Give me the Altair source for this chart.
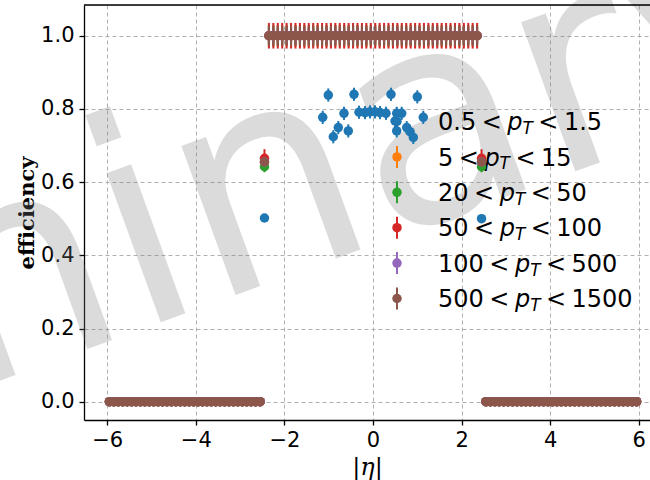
import altair as alt
import pandas as pd

# ---------------- data ----------------
series_names = ["0.5 < pT < 1.5", "5 < pT < 15", "20 < pT < 50",
                "50 < pT < 100", "100 < pT < 500", "500 < pT < 1500"]
pt_lo = ["0.5", "5", "20", "50", "100", "500"]
pt_hi = ["1.5", "15", "50", "100", "500", "1500"]
colors = ["#1f77b4", "#ff7f0e", "#2ca02c", "#d62728", "#9467bd", "#8c564b"]

eta_bins = [
    -5.95, -5.85, -5.75, -5.65, -5.55, -5.45, -5.35, -5.25, -5.15, -5.05,
    -4.95, -4.85, -4.75, -4.65, -4.55, -4.45, -4.35, -4.25, -4.15, -4.05,
    -3.95, -3.85, -3.75, -3.65, -3.55, -3.45, -3.35, -3.25, -3.15, -3.05,
    -2.95, -2.85, -2.75, -2.65, -2.55, -2.45, -2.35, -2.25, -2.15, -2.05,
    -1.95, -1.85, -1.75, -1.65, -1.55, -1.45, -1.35, -1.25, -1.15, -1.05,
    -0.95, -0.85, -0.75, -0.65, -0.55, -0.45, -0.35, -0.25, -0.15, -0.05,
    0.05, 0.15, 0.25, 0.35, 0.45, 0.55, 0.65, 0.75, 0.85, 0.95,
    1.05, 1.15, 1.25, 1.35, 1.45, 1.55, 1.65, 1.75, 1.85, 1.95,
    2.05, 2.15, 2.25, 2.35, 2.45, 2.55, 2.65, 2.75, 2.85, 2.95,
    3.05, 3.15, 3.25, 3.35, 3.45, 3.55, 3.65, 3.75, 3.85, 3.95,
    4.05, 4.15, 4.25, 4.35, 4.45, 4.55, 4.65, 4.75, 4.85, 4.95,
    5.05, 5.15, 5.25, 5.35, 5.45, 5.55, 5.65, 5.75, 5.85, 5.95,
]

# low-pT series (0.5 < pT < 1.5): central points and the two edge bins
blue_eta = [-1.135, -1.009, -0.896, -0.783, -0.655, -0.558, -0.429, -0.316,
            -0.181, -0.068, 0.045, 0.158, 0.293, 0.406, 0.497, 0.535, 0.535,
            0.648, 0.761, 0.835, 0.910, 1.000, 1.135, -2.45, 2.45]
blue_eff = [0.777, 0.838, 0.724, 0.749, 0.788, 0.740, 0.840, 0.791,
            0.790, 0.792, 0.792, 0.790, 0.788, 0.840, 0.767, 0.788, 0.740,
            0.788, 0.749, 0.738, 0.722, 0.833, 0.777, 0.502, 0.500]
blue_err = [0.018] * 23 + [0.008, 0.008]
blue_zero_eta = eta_bins[:35] + eta_bins[85:]
blue_zero_eff = [0.0] * 70

# higher-pT series on the full eta grid
eff_5_15 = [0.0] * 35 + [0.655] + [1.0] * 48 + [0.655] + [0.0] * 35
err_5_15 = [0.0] * 35 + [0.020] + [0.030] * 48 + [0.020] + [0.0] * 35
eff_20_50 = [0.0] * 35 + [0.642] + [1.0] * 48 + [0.642] + [0.0] * 35
err_20_50 = [0.0] * 35 + [0.015] + [0.025] * 48 + [0.015] + [0.0] * 35
eff_50_100 = [0.0] * 35 + [0.665] + [1.0] * 48 + [0.665] + [0.0] * 35
err_50_100 = [0.0] * 35 + [0.025] + [0.035] * 48 + [0.025] + [0.0] * 35
eff_100_500 = [0.0] * 35 + [0.655] + [1.0] * 48 + [0.655] + [0.0] * 35
err_100_500 = [0.0] * 35 + [0.020] + [0.020] * 48 + [0.020] + [0.0] * 35
eff_500_1500 = [0.0] * 35 + [0.655] + [1.0] * 48 + [0.655] + [0.0] * 35
err_500_1500 = [0.0] * 35 + [0.020] + [0.028] * 48 + [0.020] + [0.0] * 35

x_ticks = [-6, -4, -2, 0, 2, 4, 6]
y_ticks = [0.0, 0.2, 0.4, 0.6, 0.8, 1.0]

# ---------------- build table ----------------
rows = []
for e, v, s in zip(blue_eta, blue_eff, blue_err):
    rows.append(dict(eta=e, eff=v, lo=v - s, hi=v + s, series=series_names[0], k=0))
for e, v in zip(blue_zero_eta, blue_zero_eff):
    rows.append(dict(eta=e, eff=v, lo=v, hi=v, series=series_names[0], k=0))
hp = [(eff_5_15, err_5_15), (eff_20_50, err_20_50), (eff_50_100, err_50_100),
      (eff_100_500, err_100_500), (eff_500_1500, err_500_1500)]
for i, (effs, errs) in enumerate(hp, start=1):
    for e, v, s in zip(eta_bins, effs, errs):
        rows.append(dict(eta=e, eff=v, lo=v - s, hi=v + s, series=series_names[i], k=i))
df = pd.DataFrame(rows)
df_err = df[df["hi"] > df["lo"]]

# ---------------- layout ----------------
W, H = 566, 415
PAD_L, PAD_T = 84, 5
XDOM = [-6.524, 6.253]
YDOM = [-0.05, 1.084]


def px2eta(px):
    return XDOM[0] + (px - PAD_L) * (XDOM[1] - XDOM[0]) / W


def py2eff(py):
    return YDOM[1] - (py - PAD_T) * (YDOM[1] - YDOM[0]) / H


x_scale = alt.Scale(domain=XDOM, nice=False, zero=False)
y_scale = alt.Scale(domain=YDOM, nice=False, zero=False)
c_scale = alt.Scale(domain=series_names, range=colors)

common_axis = dict(grid=True, gridColor="#b0b0b0", gridDash=[4, 3], gridWidth=1,
                   domainColor="black", domainWidth=1.3, tickColor="black",
                   tickSize=5, tickWidth=1.3, labelColor="black",
                   labelFont="DejaVu Sans", labelFontSize=21, labelFlush=False,
                   titleColor="black")
x_axis = alt.Axis(values=x_ticks, format="d", labelPadding=4,
                  titleFont="DejaVu Serif", titleFontStyle="italic",
                  titleFontWeight="normal", titleFontSize=24, titlePadding=5,
                  **common_axis)
y_axis = alt.Axis(values=y_ticks, format=".1f", labelPadding=5,
                  titleFont="DejaVu Serif", titleFontWeight="bold",
                  titleFontSize=21, titlePadding=3, **common_axis)


def X(field):
    return alt.X(field, type="quantitative", scale=x_scale, axis=x_axis, title="|η|")


def Y(field):
    return alt.Y(field, type="quantitative", scale=y_scale, axis=y_axis, title="efficiency")


# ---------------- data layers ----------------
bars = alt.Chart(df_err).mark_rule(strokeWidth=2).encode(
    x=X("eta"), y=Y("lo"), y2="hi:Q",
    color=alt.Color("series:N", scale=c_scale, legend=None),
    order=alt.Order("k:Q"),
)
pts = alt.Chart(df).mark_point(filled=True, shape="circle", size=90, opacity=1).encode(
    x=X("eta"), y=Y("eff"),
    color=alt.Color("series:N", scale=c_scale, legend=None),
    order=alt.Order("k:Q"),
)

# ---------------- manual legend ----------------
FS = 24
SUB = FS * 0.7
adv = {"0": 0.6362, "1": 0.6362, "2": 0.6362, "3": 0.6362, "4": 0.6362,
       "5": 0.6362, "6": 0.6362, "7": 0.6362, "8": 0.6362, "9": 0.6362,
       ".": 0.3179, "<": 0.8379}


def wtxt(s, size):
    return sum(adv[c] for c in s) * size


gap = 5.5
x0 = 438.0
mk_x = 397.0
reg, ita, sub, lmk = [], [], [], []
for i in range(6):
    yc = 121.5 + 35.4 * i
    yb = yc + 8.7
    xl = x0 + wtxt(pt_lo[i], FS) + gap
    xp = xl + wtxt("<", FS) + gap
    xT = xp + 0.6352 * FS
    xl2 = xT + 0.6108 * SUB + gap
    xh = xl2 + wtxt("<", FS) + gap
    reg += [dict(lx=px2eta(x0), ly=py2eff(yb), t=pt_lo[i]),
            dict(lx=px2eta(xl), ly=py2eff(yb), t="<"),
            dict(lx=px2eta(xl2), ly=py2eff(yb), t="<"),
            dict(lx=px2eta(xh), ly=py2eff(yb), t=pt_hi[i])]
    ita.append(dict(lx=px2eta(xp), ly=py2eff(yb), t="p"))
    sub.append(dict(lx=px2eta(xT), ly=py2eff(yc + 12.5), t="T"))
    lmk.append(dict(lx=px2eta(mk_x), ly=py2eff(yc), lo=py2eff(yc + 11),
                    hi=py2eff(yc - 11), series=series_names[i]))

leg_reg = alt.Chart(pd.DataFrame(reg)).mark_text(
    align="left", baseline="alphabetic", font="DejaVu Sans", fontSize=FS, color="black"
).encode(x=X("lx"), y=Y("ly"), text="t:N")
leg_ita = alt.Chart(pd.DataFrame(ita)).mark_text(
    align="left", baseline="alphabetic", font="DejaVu Sans", fontStyle="italic",
    fontSize=FS, color="black"
).encode(x=X("lx"), y=Y("ly"), text="t:N")
leg_sub = alt.Chart(pd.DataFrame(sub)).mark_text(
    align="left", baseline="alphabetic", font="DejaVu Sans", fontStyle="italic",
    fontSize=SUB, color="black"
).encode(x=X("lx"), y=Y("ly"), text="t:N")
lmk_df = pd.DataFrame(lmk)
leg_bar = alt.Chart(lmk_df).mark_rule(strokeWidth=2).encode(
    x=X("lx"), y=Y("lo"), y2="hi:Q",
    color=alt.Color("series:N", scale=c_scale, legend=None))
leg_pt = alt.Chart(lmk_df).mark_point(filled=True, shape="circle", size=90, opacity=1).encode(
    x=X("lx"), y=Y("ly"),
    color=alt.Color("series:N", scale=c_scale, legend=None))

# ---------------- watermark & frame ----------------
wm = alt.Chart(pd.DataFrame({"t": ["Preliminary"]})).mark_text(
    align="left", baseline="alphabetic", angle=340, font="DejaVu Sans",
    fontSize=290, color="#808080", opacity=0.28
).encode(text="t:N", x=alt.value(-799), y=alt.value(636))

top_border = alt.Chart(pd.DataFrame({"a": [0]})).mark_rule(
    color="black", strokeWidth=1.3
).encode(x=alt.value(0), x2=alt.value(W), y=alt.value(0))

chart = alt.layer(
    wm, bars, leg_reg, leg_ita, leg_sub, leg_bar, leg_pt, pts, top_border
).properties(
    width=W, height=H,
    padding={"left": PAD_L, "top": PAD_T, "right": 0, "bottom": 480 - PAD_T - H},
    autosize=alt.AutoSizeParams(type="none"),
).configure_view(stroke=None).configure(background="white")

chart.save("out.html", embed_options={"renderer": "svg", "actions": False})
